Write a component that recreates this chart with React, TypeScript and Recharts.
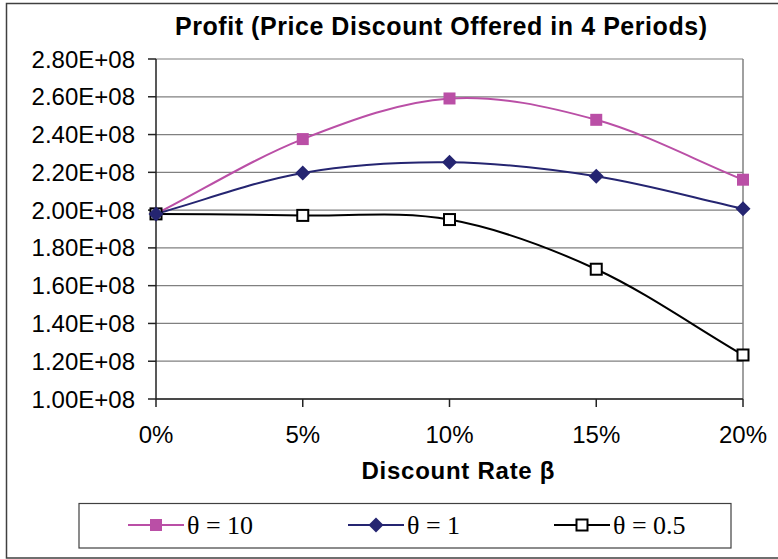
import { LineChart, Line, XAxis, YAxis, CartesianGrid, ReferenceLine } from 'recharts'

// discount rate (%) and profit per theta
const rates = [0, 5, 10, 15, 20]
const theta10 = [1.98e8, 2.376e8, 2.591e8, 2.478e8, 2.161e8]
const theta1 = [1.98e8, 2.197e8, 2.253e8, 2.179e8, 2.007e8]
const theta05 = [1.98e8, 1.972e8, 1.95e8, 1.687e8, 1.233e8]
const yTicks = [1.0e8, 1.2e8, 1.4e8, 1.6e8, 1.8e8, 2.0e8, 2.2e8, 2.4e8, 2.6e8, 2.8e8]

const PINK = '#BA4FA6'
const NAVY = '#252571'
const BLACK = '#000000'
const FONT = '"Liberation Sans", Arial, sans-serif'
const SERIF = '"Liberation Serif", "Times New Roman", serif'

const data = rates.map((r, i) => ({ rate: r, t10: theta10[i], t1: theta1[i], t05: theta05[i] }))

const fmtSci = (v: number) => `${(v / 1e8).toFixed(2)}E+08`

// excel-style smoothed line (catmull-rom, reflected end points)
const excelSmooth = (ctx: any) => {
  let pts: number[][] = []
  return {
    areaStart() {},
    areaEnd() {},
    lineStart() { pts = [] },
    point(x: number, y: number) { pts.push([+x, +y]) },
    lineEnd() {
      const n = pts.length
      if (!n) return
      ctx.moveTo(pts[0][0], pts[0][1])
      if (n === 1) return
      const at = (i: number) => {
        if (i < 0) return [2 * pts[0][0] - pts[1][0], 2 * pts[0][1] - pts[1][1]]
        if (i >= n) return [2 * pts[n - 1][0] - pts[n - 2][0], 2 * pts[n - 1][1] - pts[n - 2][1]]
        return pts[i]
      }
      for (let i = 0; i < n - 1; i++) {
        const p0 = at(i - 1), p1 = pts[i], p2 = pts[i + 1], p3 = at(i + 2)
        ctx.bezierCurveTo(
          p1[0] + (p2[0] - p0[0]) / 6, p1[1] + (p2[1] - p0[1]) / 6,
          p2[0] - (p3[0] - p1[0]) / 6, p2[1] - (p3[1] - p1[1]) / 6,
          p2[0], p2[1],
        )
      }
    },
  }
}

type Shape = 'square' | 'diamond' | 'open'

const marker = (shape: Shape, color: string, cx: number, cy: number, key?: string) => {
  if (shape === 'square') return <rect key={key} x={cx - 6} y={cy - 6} width={12} height={12} fill={color} />
  if (shape === 'diamond')
    return <path key={key} d={`M${cx},${cy - 7.5}L${cx + 7.5},${cy}L${cx},${cy + 7.5}L${cx - 7.5},${cy}Z`} fill={color} />
  return <rect key={key} x={cx - 5.5} y={cy - 5.5} width={11} height={11} fill="#fff" stroke={color} strokeWidth={2} />
}

const series: { key: string; name: string; color: string; shape: Shape; lx: number }[] = [
  { key: 't10', name: 'θ = 10', color: PINK, shape: 'square', lx: 128 },
  { key: 't05', name: 'θ = 0.5', color: BLACK, shape: 'open', lx: 554 },
  { key: 't1', name: 'θ = 1', color: NAVY, shape: 'diamond', lx: 348 },
]
const legendOrder = ['t10', 't1', 't05']

export default function App() {
  return (
    <div style={{ position: 'absolute', left: 0, top: 0, width: 778, height: 559, background: '#fff', overflow: 'hidden' }}>
      <div style={{ position: 'absolute', left: 0, top: 0 }}>
        <LineChart width={778} height={559} data={data} margin={{ top: 59, right: 35, left: 0, bottom: 110 }}>
          <CartesianGrid vertical={false} stroke="#808080" strokeWidth={1.2} />
          <XAxis
            type="number"
            dataKey="rate"
            domain={[0, 20]}
            ticks={rates}
            interval={0}
            tickFormatter={(v) => `${v}%`}
            height={50}
            tickSize={8}
            tickMargin={19}
            stroke="#222"
            strokeWidth={1.5}
            tick={{ fontSize: 24, fill: '#000', fontFamily: FONT }}
          />
          <YAxis
            type="number"
            domain={[1e8, 2.8e8]}
            ticks={yTicks}
            interval={0}
            tickFormatter={fmtSci}
            width={156}
            tickSize={8}
            tickMargin={13}
            stroke="#222"
            strokeWidth={1.5}
            tick={{ fontSize: 24, fill: '#000', fontFamily: FONT }}
          />
          <ReferenceLine x={20} stroke="#808080" strokeWidth={1.5} />
          {series.map((s) => (
            <Line
              key={s.key}
              dataKey={s.key}
              type={excelSmooth as any}
              stroke={s.color}
              strokeWidth={2}
              isAnimationActive={false}
              dot={(p: any) => marker(s.shape, s.color, p.cx, p.cy, `${s.key}-${p.index}`)}
              activeDot={false}
            />
          ))}
        </LineChart>
      </div>
      <svg width={778} height={559} style={{ position: 'absolute', left: 0, top: 0, pointerEvents: 'none' }}>
        <path d="M778,3.5H6.5V558H778" fill="none" stroke="#404040" strokeWidth={1.5} />
        <text x={441} y={35} textAnchor="middle" fontFamily={FONT} fontWeight="bold" fontSize={25} textLength={532} fill="#000">
          Profit (Price Discount Offered in 4 Periods)
        </text>
        <text x={458} y={479} textAnchor="middle" fontFamily={FONT} fontWeight="bold" fontSize={24} textLength={193} fill="#000">
          Discount Rate β
        </text>
        <rect x={79} y={503.5} width={652} height={44.5} fill="#fff" stroke="#404040" strokeWidth={1.2} />
        {legendOrder.map((k) => {
          const s = series.find((x) => x.key === k)!
          return (
            <g key={k}>
              <line x1={s.lx} x2={s.lx + 56} y1={525} y2={525} stroke={s.color} strokeWidth={2} />
              {marker(s.shape, s.color, s.lx + 28, 525)}
              <text x={s.lx + 59} y={534} fontFamily={SERIF} fontSize={26} fill="#000">
                {s.name}
              </text>
            </g>
          )
        })}
      </svg>
    </div>
  )
}
